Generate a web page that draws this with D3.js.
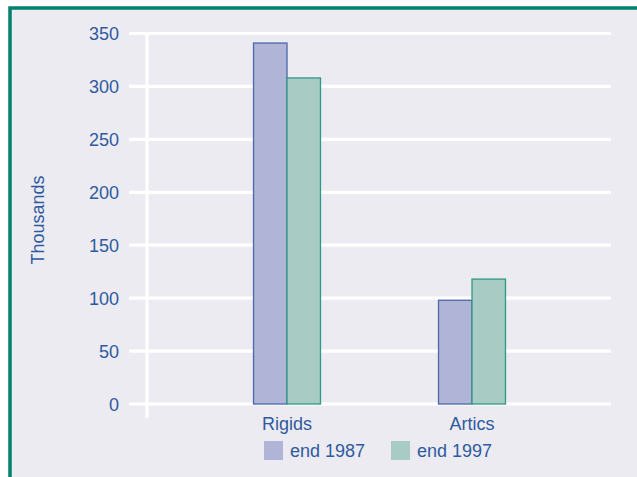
<!DOCTYPE html>
<html lang="en">
<head>
  <meta charset="UTF-8">
  <title>Rigids and Artics</title>
  <style>
    body { margin: 0; background: #fff; }
    text { font-family: "Liberation Sans", Arial, sans-serif; fill: #2F5AA0; }
  </style>
</head>
<body>
  <div id="chart"></div>

  <script src="https://d3js.org/d3.v7.min.js"></script>
  <script>
    // data
    const categories = ["Rigids", "Artics"];
    const seriesNames = ["end 1987", "end 1997"];
    const end1987 = [341, 98];
    const end1997 = [308, 118];
    const yTicks = [0, 50, 100, 150, 200, 250, 300, 350];

    const width = 637, height = 477;
    const fills = ["#B0B4D7", "#A8CBC3"];
    const strokes = ["#4A68AA", "#2F9886"];

    const svg = d3.select("#chart").append("svg")
      .attr("width", width)
      .attr("height", height);

    // frame
    svg.append("rect")
      .attr("x", 10).attr("y", 8)
      .attr("width", width + 20).attr("height", height + 20)
      .attr("fill", "#ECEBF1")
      .attr("stroke", "#00806E")
      .attr("stroke-width", 3.5);

    const y = d3.scaleLinear().domain([0, 350]).range([404, 33.5]);
    const x = d3.scaleBand().domain(categories).range([194.5, 564.5])
      .paddingInner(0.638).paddingOuter(0.319);
    const xs = d3.scaleBand().domain(seriesNames).range([0, x.bandwidth()]);

    // grid
    svg.append("g").selectAll("line")
      .data(yTicks)
      .join("line")
      .attr("x1", 129).attr("x2", 611)
      .attr("y1", d => y(d)).attr("y2", d => y(d))
      .attr("stroke", "#fff")
      .attr("stroke-width", 3.2);

    svg.append("line")
      .attr("x1", 147).attr("x2", 147)
      .attr("y1", y(350)).attr("y2", 418)
      .attr("stroke", "#fff")
      .attr("stroke-width", 3.2);

    // y tick labels
    svg.append("g").selectAll("text")
      .data(yTicks)
      .join("text")
      .attr("x", 119)
      .attr("y", d => y(d) + 6.5)
      .attr("text-anchor", "end")
      .attr("font-size", 18)
      .text(d => d);

    svg.append("text")
      .attr("transform", "translate(44,220) rotate(-90)")
      .attr("text-anchor", "middle")
      .attr("font-size", 18)
      .text("Thousands");

    // bars
    const rows = categories.map((c, i) => ({ cat: c, vals: [end1987[i], end1997[i]] }));
    const groups = svg.append("g").selectAll("g")
      .data(rows)
      .join("g")
      .attr("transform", d => `translate(${x(d.cat)},0)`);

    groups.selectAll("rect")
      .data(d => d.vals.map((v, j) => ({ s: seriesNames[j], v, j })))
      .join("rect")
      .attr("x", d => xs(d.s))
      .attr("y", d => y(d.v))
      .attr("width", xs.bandwidth())
      .attr("height", d => y(0) - y(d.v))
      .attr("fill", d => fills[d.j])
      .attr("stroke", d => strokes[d.j])
      .attr("stroke-width", 1.3);

    // category labels
    svg.append("g").selectAll("text")
      .data(categories)
      .join("text")
      .attr("x", d => x(d) + x.bandwidth() / 2)
      .attr("y", 429.5)
      .attr("text-anchor", "middle")
      .attr("font-size", 18)
      .text(d => d);

    // legend
    const legendX = [264, 391];
    const legend = svg.append("g").selectAll("g")
      .data(seriesNames)
      .join("g")
      .attr("transform", (d, i) => `translate(${legendX[i]},441)`);
    legend.append("rect")
      .attr("width", 19).attr("height", 19)
      .attr("fill", (d, i) => fills[i]);
    legend.append("text")
      .attr("x", 26).attr("y", 15.5)
      .attr("font-size", 18)
      .text(d => d);
  </script>
</body>
</html>
